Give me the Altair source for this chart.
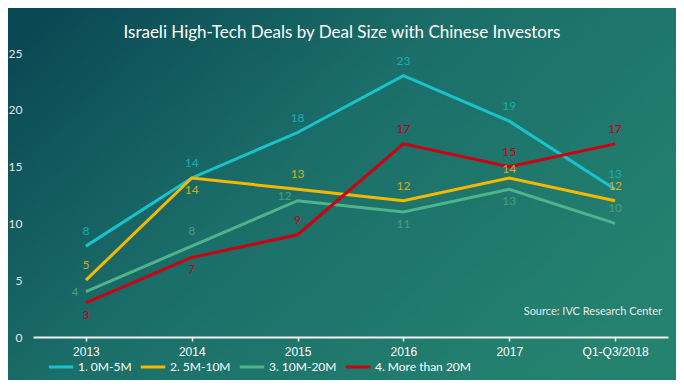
import altair as alt
import pandas as pd

# ---- data ----
YEARS = ["2013", "2014", "2015", "2016", "2017", "Q1-Q3/2018"]
SERIES = ["1. 0M-5M", "2. 5M-10M", "3. 10M-20M", "4. More than 20M"]
S1 = [8, 14, 18, 23, 19, 13]
S2 = [5, 14, 13, 12, 14, 12]
S3 = [4, 8, 12, 11, 13, 10]
S4 = [3, 7, 9, 17, 15, 17]
VALUES = [S1, S2, S3, S4]
TITLE = "Israeli High-Tech Deals by Deal Size with Chinese Investors"
SOURCE = "Source: IVC Research Center"

# label placement per point (a=above, as=slightly above, b=below, l=left, al=above-left)
PLACE = [
    ["a", "a", "a", "a", "a", "a"],
    ["a", "b", "a", "a", "as", "a"],
    ["l", "a", "al", "b", "b", "a"],
    ["b", "b", "a", "a", "a", "a"],
]

LINE_COLORS = ["#19c3cc", "#f5b800", "#4fb38c", "#cc0010"]
LABEL_COLORS = ["#1aabb3", "#d3ab22", "#4c9d7e", "#c4000f"]

rows = []
for s, vals, pl in zip(SERIES, VALUES, PLACE):
    for y, v, p in zip(YEARS, vals, pl):
        rows.append({"year": y, "series": s, "value": v, "place": p})
df = pd.DataFrame(rows)
one = pd.DataFrame({"title": [TITLE], "source": [SOURCE]})

W, H = 635, 284
FONT = "Lato"

bg = alt.Chart(one).mark_rect(
    fill=alt.Gradient(
        gradient="linear",
        stops=[
            alt.GradientStop(color="#0a4853", offset=0),
            alt.GradientStop(color="#1b6e69", offset=0.45),
            alt.GradientStop(color="#24826f", offset=1),
        ],
        x1=0, y1=0.1, x2=1, y2=0.7,
    ),
).encode(
    x=alt.value(-25), x2=alt.value(W + 8),
    y=alt.value(-45), y2=alt.value(H + 43),
)

xenc = alt.X(
    "year:N", sort=YEARS, title=None,
    scale=alt.Scale(paddingInner=0, paddingOuter=0),
    axis=alt.Axis(
        labelAngle=0, labelColor="#ffffff", labelFont="Liberation Sans",
        labelFontSize=12, labelPadding=5, domainColor="#f0f0f0", domainWidth=2,
        tickColor="#f0f0f0", tickSize=4, tickWidth=1.5, bandPosition=0,
        ticks=True, grid=False, zindex=2,
    ),
)
yenc = alt.Y(
    "value:Q", title=None,
    scale=alt.Scale(domain=[0, 25], nice=False),
    axis=alt.Axis(
        values=[0, 5, 10, 15, 20, 25], labelColor="#e6e6e6", labelFont=FONT,
        labelFontSize=12, labelPadding=11, domain=False, ticks=False, grid=False,
        zindex=2,
    ),
)

lines = alt.Chart(df).mark_line(strokeWidth=3).encode(
    x=xenc, y=yenc,
    color=alt.Color(
        "series:N",
        scale=alt.Scale(domain=SERIES, range=LINE_COLORS),
        legend=alt.Legend(
            title=None, orient="none", legendX=14, legendY=300,
            direction="horizontal", symbolType="stroke", symbolSize=600,
            symbolStrokeWidth=3, labelColor="#ffffff", labelFont=FONT,
            labelFontSize=12, columnPadding=2, labelOffset=3, zindex=2,
        ),
    ),
)

def labels(code, dx, dy):
    return alt.Chart(df).transform_filter(
        alt.datum.place == code
    ).mark_text(font=FONT, fontSize=12, dx=dx, dy=dy, baseline="middle").encode(
        x=alt.X("year:N", sort=YEARS),
        y=alt.Y("value:Q"),
        text="value:Q",
        color=alt.Color(
            "series:N",
            scale=alt.Scale(domain=SERIES, range=LABEL_COLORS),
            legend=None,
        ),
    )

texts = alt.layer(
    labels("a", 0, -15), labels("as", 0, -9), labels("b", 0, 12),
    labels("l", -11, 0), labels("al", -13, -5)
)

source = alt.Chart(one).mark_text(
    font=FONT, fontSize=11, color="#e8e8e8", align="right", baseline="middle",
).encode(text="source:N", x=alt.value(W - 6), y=alt.value(259))

title = alt.Chart(one).mark_text(
    font=FONT, fontSize=17, color="#ffffff", align="center", baseline="middle",
).encode(text="title:N", x=alt.value(309), y=alt.value(-20))

chart = alt.layer(bg, lines, texts, source, title).resolve_scale(
    color="independent"
).properties(
    width=W, height=H,
    autosize=alt.AutoSizeParams(type="none"),
    padding={"left": 25, "top": 45, "right": 8, "bottom": 43},
    background="#17605f",
).configure_view(stroke=None)

chart.save("out.html", embed_options={"renderer": "svg", "actions": False})
